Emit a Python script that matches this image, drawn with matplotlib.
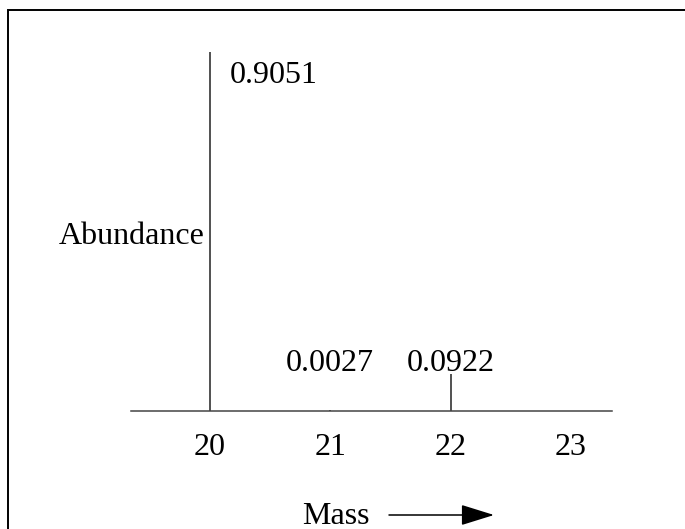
import matplotlib
matplotlib.use("Agg")
import matplotlib.pyplot as plt
from matplotlib.patches import Rectangle

# neon isotope abundances
masses = [20, 21, 22]
abundance = [0.9051, 0.0027, 0.0922]
labels = ["0.9051", "0.0027", "0.0922"]
mass_ticks = [20, 21, 22, 23]

plt.rcParams['font.family'] = ['Liberation Serif', 'DejaVu Serif']
plt.rcParams['font.size'] = 23

fig = plt.figure(figsize=(6.85, 5.29), dpi=100)
ax = fig.add_axes([0.1912, 0.2231, 0.7022, 0.7505])

ax.vlines(masses, 0, abundance, color='#222222', lw=1.1)

# big peak labelled beside its top, small ones at a common height
ax.annotate(labels[0], (masses[0], abundance[0]), xytext=(14, -7),
            textcoords='offset points', ha='left', va='top')
for m, lab in zip(masses[1:], labels[1:]):
    ax.text(m, 0.1185, lab, ha='center', va='center')

ax.text(19.955, 0.439, "Abundance", ha='right', va='center')

ax.set_xlim(19.345, 23.34)
ax.set_ylim(0, 1)
ax.set_xticks(mass_ticks)
ax.tick_params(axis='x', length=0, pad=16)
ax.set_yticks([])
for s in ['top', 'left', 'right']:
    ax.spines[s].set_visible(False)
ax.spines['bottom'].set_color('#444444')
ax.spines['bottom'].set_linewidth(1.1)
ax.patch.set_alpha(0)

fig.text(336 / 685, 1 - 516 / 529, "Mass", ha='center', va='center')
fig.add_artist(plt.Annotation("", xy=(494 / 685, 1 - 515 / 529),
                              xytext=(389 / 685, 1 - 515 / 529),
                              xycoords='figure fraction',
                              arrowprops=dict(arrowstyle='-|>,head_length=0.9,head_width=0.28',
                                              color='black', lw=1.1,
                                              shrinkA=0, shrinkB=0)))

fig.add_artist(Rectangle((8 / 685, -0.1), 1.2, (529 - 10) / 529 + 0.1,
                         transform=fig.transFigure, fill=False,
                         ec='black', lw=1.4))

fig.savefig("out.png", dpi=100)
